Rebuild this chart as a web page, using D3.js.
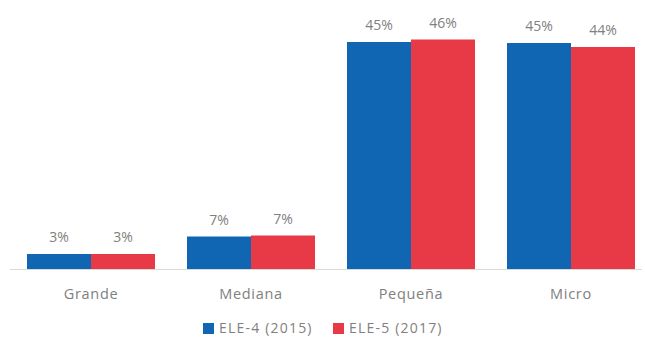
<!DOCTYPE html>
<html>
<head>
<meta charset="utf-8">
<script src="https://cdn.jsdelivr.net/npm/d3@7"></script>
<style>
  body { margin: 0; background: #fff; }
  text { font-family: "Open Sans", "DejaVu Sans", sans-serif; fill: #808080; }
</style>
</head>
<body>
<script>
// chart size
var w = 645;
var h = 339;

// data
var categories = ["Grande", "Mediana", "Pequeña", "Micro"];
var seriesNames = ["ELE-4 (2015)", "ELE-5 (2017)"];
var ele4 = [3.0, 6.5, 45.4, 45.2];
var ele5 = [3.0, 6.7, 45.9, 44.4];
var colors = ["#1166b3", "#e83a46"];

// reshape: one row per bar
var rows = [];
for (var i = 0; i < categories.length; i++) {
    rows.push({ cat: categories[i], s: 0, val: ele4[i] });
    rows.push({ cat: categories[i], s: 1, val: ele5[i] });
}

var baseY = 269;

var svg = d3.select("body").append("svg")
            .attr("width", w)
            .attr("height", h);

// scales
var scaleX = d3.scaleBand()
               .domain(categories)
               .range([11, 651])
               .paddingInner(0.2)
               .paddingOuter(0.1);

var scaleS = d3.scaleBand()
               .domain([0, 1])
               .range([0, scaleX.bandwidth()]);

var scaleY = d3.scaleLinear()
               .domain([0, 50])
               .range([baseY, baseY - 250]);

// bars
svg.selectAll("rect.bar")
   .data(rows)
   .enter()
   .append("rect")
   .attr("class", "bar")
   .attr("x", function(d) { return scaleX(d.cat) + scaleS(d.s); })
   .attr("y", function(d) { return scaleY(d.val); })
   .attr("width", scaleS.bandwidth())
   .attr("height", function(d) { return baseY - scaleY(d.val); })
   .attr("fill", function(d) { return colors[d.s]; });

// value labels
svg.selectAll("text.val")
   .data(rows)
   .enter()
   .append("text")
   .attr("class", "val")
   .attr("x", function(d) { return scaleX(d.cat) + scaleS(d.s) + scaleS.bandwidth()/2; })
   .attr("y", function(d) { return scaleY(d.val) - 12; })
   .attr("text-anchor", "middle")
   .style("font-size", "14px")
   .text(function(d) { return Math.round(d.val) + "%"; });

// x axis
var axisX = d3.axisBottom(scaleX).tickSize(0).tickPadding(20);
var gx = svg.append("g")
            .attr("transform", "translate(0," + baseY + ")")
            .call(axisX);
gx.select(".domain").remove();
gx.selectAll("text")
  .style("font-size", "14.5px")
  .style("letter-spacing", "0.7px")
  .attr("fill", "#8a8a8a");
gx.append("line")
  .attr("x1", 10).attr("x2", 642)
  .attr("y1", 0.5).attr("y2", 0.5)
  .attr("stroke", "#d9d9d9")
  .attr("stroke-width", 1);

// legend
var legX = [203, 333];
var legY = 328;
seriesNames.forEach(function(name, k) {
    svg.append("rect")
       .attr("x", legX[k])
       .attr("y", legY - 5)
       .attr("width", 11)
       .attr("height", 11)
       .attr("fill", colors[k]);
    svg.append("text")
       .attr("x", legX[k] + 16)
       .attr("y", legY + 5)
       .style("font-size", "14px")
       .style("letter-spacing", "1.2px")
       .text(name);
});
</script>
</body>
</html>
